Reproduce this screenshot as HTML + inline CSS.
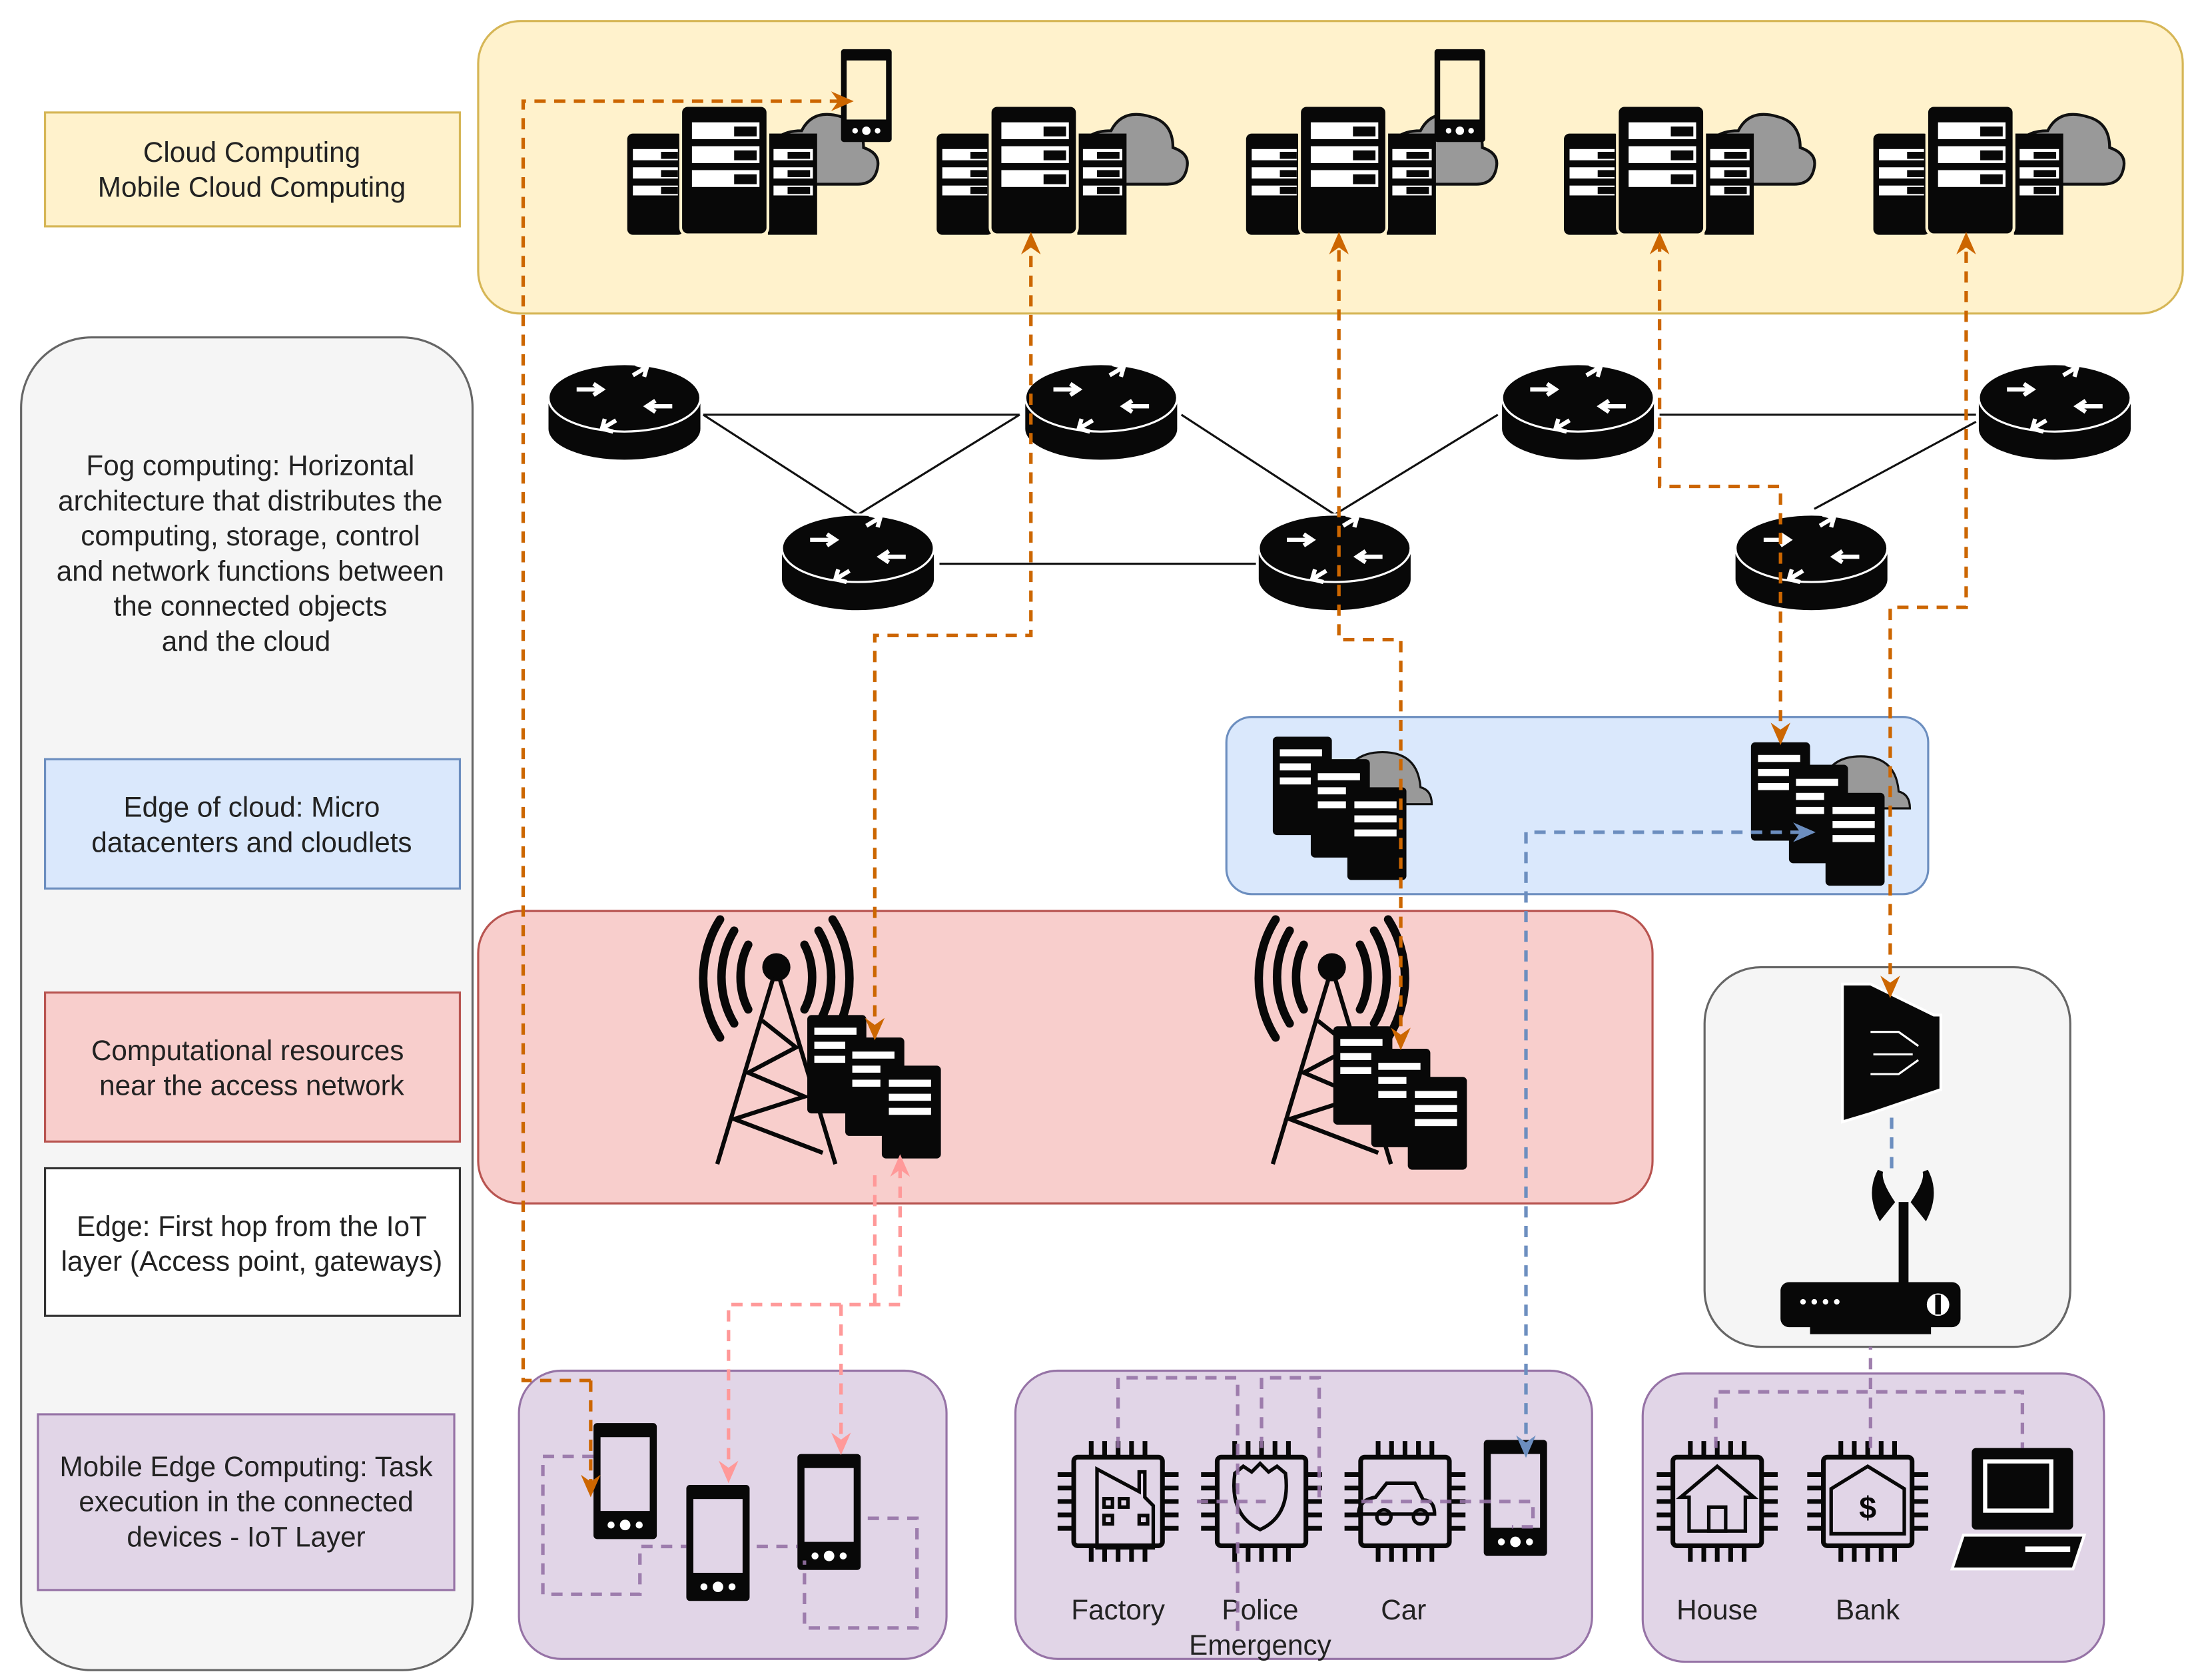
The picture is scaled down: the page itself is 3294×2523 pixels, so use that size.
<!DOCTYPE html>
<html><head><meta charset="utf-8"><style>
html,body{margin:0;padding:0;background:#fff;}
svg{display:block;}
text{font-family:"Liberation Sans",sans-serif;font-size:20px;fill:#222;}
</style></head><body>
<svg width="3294" height="2523" viewBox="0 0 1560 1195" preserveAspectRatio="none" xmlns="http://www.w3.org/2000/svg">
<defs>
<symbol id="cluster" viewBox="0 0 200 110" overflow="visible">
  <path d="M100,38 q2,-20 24,-20 q8,-16 28,-10 q16,4 16,22 q12,4 10,14 q-2,12 -14,12 h-64z" fill="#999" stroke="#111" stroke-width="2"/>
  <rect x="0" y="20" width="40" height="72" rx="4" fill="#080808"/>
  <rect x="100" y="20" width="35" height="72" fill="#080808"/>
  <rect x="38" y="0" width="62" height="92" rx="5" fill="#080808" stroke="#fff2cc" stroke-width="2"/>
  <g fill="#fff">
   <rect x="4" y="31" width="32" height="8"/><rect x="4" y="44" width="32" height="8"/><rect x="4" y="57" width="32" height="7"/>
   <rect x="104" y="31" width="28" height="8"/><rect x="104" y="44" width="28" height="8"/><rect x="104" y="57" width="28" height="7"/>
   <rect x="46" y="12" width="48" height="12"/><rect x="46" y="29" width="48" height="12"/><rect x="46" y="46" width="48" height="12"/>
  </g>
  <g fill="#080808"><rect x="24" y="33" width="12" height="5"/><rect x="24" y="46" width="12" height="5"/><rect x="24" y="58" width="12" height="5"/>
  <rect x="76" y="15" width="16" height="7"/><rect x="76" y="32" width="16" height="7"/><rect x="76" y="49" width="16" height="7"/>
  <rect x="114" y="33" width="16" height="5"/><rect x="114" y="46" width="16" height="5"/><rect x="114" y="58" width="16" height="5"/></g>
</symbol>
<symbol id="phone" viewBox="0 0 40 70" overflow="visible">
  <rect x="0" y="0" width="36" height="66" rx="2" fill="#080808"/>
  <rect x="4" y="8" width="28" height="42" fill="currentColor"/>
  <circle cx="10" cy="58" r="2" fill="#fff"/><circle cx="18" cy="58" r="3" fill="#fff"/><circle cx="26" cy="58" r="2" fill="#fff"/>
</symbol>
<symbol id="router" viewBox="-55 -36 110 72" overflow="visible">
  <path d="M-54,-10 v22 a54,22 0 0 0 108,0 v-22z" fill="#080808"/>
  <ellipse cx="0" cy="-10" rx="54" ry="24" fill="#080808" stroke="#fff" stroke-width="1.5"/>
  <g stroke="#fff" stroke-width="3" fill="none">
   <path d="M-34,-16 h18 M-22,-20 l6,4 l-6,4"/><path d="M34,-4 h-18 M22,0 l-6,-4 l6,-4"/>
   <path d="M6,-26 l10,-6 M8,-34 l8,2 l-2,7"/><path d="M-6,6 l-10,6 M-8,14 l-8,-2 l2,-7"/>
  </g>
</symbol>
<symbol id="docs" viewBox="0 0 90 100" overflow="visible">
  <g><rect x="0" y="0" width="42" height="70" rx="3" fill="#080808"/><rect x="5" y="9" width="30" height="5" fill="#fff"/><rect x="5" y="19" width="24" height="5" fill="#fff"/><rect x="5" y="29" width="24" height="5" fill="#fff"/></g>
  <g><rect x="27" y="16" width="42" height="70" rx="3" fill="#080808"/><rect x="32" y="26" width="30" height="5" fill="#fff"/><rect x="32" y="36" width="20" height="5" fill="#fff"/><rect x="32" y="46" width="20" height="5" fill="#fff"/></g>
  <g><rect x="53" y="36" width="42" height="66" rx="3" fill="#080808"/><rect x="58" y="46" width="30" height="5" fill="#fff"/><rect x="58" y="56" width="30" height="5" fill="#fff"/><rect x="58" y="66" width="30" height="5" fill="#fff"/></g>
</symbol>
<symbol id="tower" viewBox="0 0 110 180" overflow="visible">
  <g fill="none" stroke="#080808" stroke-width="6" stroke-linecap="round">
   <path d="M32,22 a30,40 0 0 0 0,46"/><path d="M22,12 a45,55 0 0 0 0,66"/><path d="M12,4 a60,70 0 0 0 0,84"/>
   <path d="M72,22 a30,40 0 0 1 0,46"/><path d="M82,12 a45,55 0 0 1 0,66"/><path d="M92,4 a60,70 0 0 1 0,84"/>
  </g>
  <circle cx="52" cy="38" r="10" fill="#080808"/>
  <g fill="none" stroke="#080808" stroke-width="3">
   <path d="M50,45 L10,178 M54,45 L94,178"/>
   <path d="M42,76 L66,95 L32,113 L72,130 L22,146 L85,170"/>
  </g>
</symbol>
<symbol id="chip" viewBox="0 0 90 90" overflow="visible">
  <g stroke="#080808" stroke-width="3.5">
   <path d="M25,0 v12 M35,0 v12 M45,0 v12 M55,0 v12 M65,0 v12 M25,78 v12 M35,78 v12 M45,78 v12 M55,78 v12 M65,78 v12"/>
   <path d="M0,25 h12 M0,35 h12 M0,45 h12 M0,55 h12 M0,65 h12 M78,25 h12 M78,35 h12 M78,45 h12 M78,55 h12 M78,65 h12"/>
  </g>
  <rect x="12" y="12" width="66" height="66" rx="3" fill="none" stroke="#080808" stroke-width="3.5"/>
</symbol>
<marker id="ao" markerWidth="16" markerHeight="16" refX="13" refY="8" orient="auto-start-reverse" markerUnits="userSpaceOnUse"><path d="M0,1 L16,8 L0,15 L5,8z" fill="#cc6600"/></marker>
<marker id="ap" markerWidth="16" markerHeight="16" refX="13" refY="8" orient="auto-start-reverse" markerUnits="userSpaceOnUse"><path d="M0,1 L16,8 L0,15 L5,8z" fill="#ff9999"/></marker>
<marker id="ab" markerWidth="16" markerHeight="16" refX="13" refY="8" orient="auto-start-reverse" markerUnits="userSpaceOnUse"><path d="M0,1 L16,8 L0,15 L5,8z" fill="#6c8ebf"/></marker>
</defs>

<rect x="340" y="15" width="1212" height="208" rx="30" fill="#fff2cc" stroke="#d6b656" stroke-width="1.5"/>
<rect x="15" y="240" width="321" height="948" rx="50" fill="#f5f5f5" stroke="#666" stroke-width="1.5"/>
<rect x="872" y="510" width="499" height="126" rx="18" fill="#dae8fc" stroke="#6c8ebf" stroke-width="1.5"/>
<rect x="340" y="648" width="835" height="208" rx="30" fill="#f8cecc" stroke="#b85450" stroke-width="1.5"/>
<rect x="1212" y="688" width="260" height="270" rx="40" fill="#f5f5f5" stroke="#666" stroke-width="1.5"/>
<rect x="369" y="975" width="304" height="205" rx="30" fill="#e1d5e7" stroke="#9673a6" stroke-width="1.5"/>
<rect x="722" y="975" width="410" height="205" rx="30" fill="#e1d5e7" stroke="#9673a6" stroke-width="1.5"/>
<rect x="1168" y="977" width="328" height="205" rx="30" fill="#e1d5e7" stroke="#9673a6" stroke-width="1.5"/>

<rect x="32" y="80" width="295" height="81" fill="#fff2cc" stroke="#d6b656" stroke-width="1.5"/>
<text x="179" y="115" text-anchor="middle">Cloud Computing</text>
<text x="179" y="140" text-anchor="middle">Mobile Cloud Computing</text>
<g text-anchor="middle">
<text x="178" y="338">Fog computing: Horizontal</text>
<text x="178" y="363">architecture that distributes the</text>
<text x="178" y="388">computing, storage, control</text>
<text x="178" y="413">and network functions between</text>
<text x="178" y="438">the connected objects</text>
<text x="175" y="463">and the cloud</text>
</g>
<rect x="32" y="540" width="295" height="92" fill="#dae8fc" stroke="#6c8ebf" stroke-width="1.5"/>
<text x="179" y="581" text-anchor="middle">Edge of cloud: Micro</text>
<text x="179" y="606" text-anchor="middle">datacenters and cloudlets</text>
<rect x="32" y="706" width="295" height="106" fill="#f8cecc" stroke="#b85450" stroke-width="1.5"/>
<text x="176" y="754" text-anchor="middle">Computational resources</text>
<text x="179" y="779" text-anchor="middle">near the access network</text>
<rect x="32" y="831" width="295" height="105" fill="#fff" stroke="#333" stroke-width="1.5"/>
<text x="179" y="879" text-anchor="middle">Edge: First hop from the IoT</text>
<text x="179" y="904" text-anchor="middle">layer (Access point, gateways)</text>
<rect x="27" y="1006" width="296" height="125" fill="#e1d5e7" stroke="#9673a6" stroke-width="1.5"/>
<text x="175" y="1050" text-anchor="middle">Mobile Edge Computing: Task</text>
<text x="175" y="1075" text-anchor="middle">execution in the connected</text>
<text x="175" y="1100" text-anchor="middle">devices - IoT Layer</text>

<g stroke="#111" stroke-width="1.5" fill="none">
<path d="M500,295 H725 M500,295 L610,366 L725,295 M840,295 L949,366 L1065,295 M1180,295 H1405 M1290,362 L1405,300 M668,401 H893"/>
</g>

<use href="#cluster" x="446" y="75" width="200" height="110"/>
<use href="#cluster" x="666" y="75" width="200" height="110"/>
<use href="#cluster" x="886" y="75" width="200" height="110"/>
<use href="#cluster" x="1112" y="75" width="200" height="110"/>
<use href="#cluster" x="1332" y="75" width="200" height="110"/>
<use href="#phone" x="598" y="35" width="40" height="70" style="color:#fff2cc"/>
<use href="#phone" x="1020" y="35" width="40" height="70" style="color:#fff2cc"/>

<use href="#router" x="389" y="257" width="110" height="72"/>
<use href="#router" x="728" y="257" width="110" height="72"/>
<use href="#router" x="1067" y="257" width="110" height="72"/>
<use href="#router" x="1406" y="257" width="110" height="72"/>
<use href="#router" x="555" y="364" width="110" height="72"/>
<use href="#router" x="894" y="364" width="110" height="72"/>
<use href="#router" x="1233" y="364" width="110" height="72"/>

<path d="M955,565 q0,-30 28,-30 q25,0 27,25 q8,2 8,12 h-63z" fill="#999" stroke="#111" stroke-width="1.5"/>
<use href="#docs" x="905" y="524" width="90" height="100"/>
<path d="M1295,568 q0,-30 28,-30 q25,0 27,25 q8,2 8,12 h-63z" fill="#999" stroke="#111" stroke-width="1.5"/>
<use href="#docs" x="1245" y="528" width="90" height="100"/>

<use href="#tower" x="500" y="650" width="110" height="180"/>
<use href="#docs" x="574" y="722" width="90" height="100"/>
<use href="#tower" x="895" y="650" width="110" height="180"/>
<use href="#docs" x="948" y="730" width="90" height="100"/>

<path d="M1310,700 L1330,700 L1375,722 L1380,722 L1380,775 L1330,792 L1310,798z" fill="#080808" stroke="#fff" stroke-width="2"/>
<g stroke="#fff" stroke-width="1.5" fill="none"><path d="M1330,734 h20 l14,10 M1332,750 h28 M1330,764 h20 l14,-10"/></g>
<rect x="1350" y="855" width="7" height="60" fill="#080808"/>
<path d="M1345,855 q-10,-15 -8,-22 q-8,15 0,32z M1361,855 q10,-15 8,-22 q8,15 0,32z" fill="#080808" stroke="#080808" stroke-width="4"/>
<rect x="1266" y="912" width="128" height="32" rx="6" fill="#080808"/>
<rect x="1287" y="940" width="86" height="9" fill="#080808"/>
<g fill="#fff"><circle cx="1282" cy="926" r="2"/><circle cx="1290" cy="926" r="2"/><circle cx="1298" cy="926" r="2"/><circle cx="1306" cy="926" r="2"/><circle cx="1378" cy="928" r="8"/></g>
<rect x="1376" y="921" width="4" height="14" fill="#080808"/>

<use href="#phone" x="422" y="1012" width="50" height="88" style="color:#e1d5e7"/>
<use href="#phone" x="488" y="1056" width="50" height="88" style="color:#e1d5e7"/>
<use href="#phone" x="567" y="1034" width="50" height="88" style="color:#e1d5e7"/>
<use href="#phone" x="1055" y="1024" width="50" height="88" style="color:#e1d5e7"/>
<use href="#chip" x="752" y="1025" width="86" height="86"/>
<use href="#chip" x="854" y="1025" width="86" height="86"/>
<use href="#chip" x="956" y="1025" width="86" height="86"/>
<use href="#chip" x="1178" y="1025" width="86" height="86"/>
<use href="#chip" x="1285" y="1025" width="86" height="86"/>
<g fill="none" stroke="#080808" stroke-width="2.5">
 <path d="M780,1045 l30,16 v-14 h4 v18 l6,6 v30 h-40z"/><rect x="785" y="1066" width="6" height="6"/><rect x="796" y="1066" width="6" height="6"/><rect x="785" y="1078" width="6" height="6"/><rect x="810" y="1078" width="6" height="6"/>
 <path d="M878,1048 l6,-5 l6,4 l6,-6 l6,6 l6,-4 l6,5 q4,30 -18,40 q-22,-10 -18,-40z"/>
 <path d="M966,1077 q0,-10 12,-12 l8,-10 h20 l6,12 q8,0 8,10 z"/><circle cx="984" cy="1079" r="5"/><circle cx="1010" cy="1079" r="5"/>
 <path d="M1221,1043 l-26,22 h6 v24 h40 v-24 h6z"/><rect x="1215" y="1072" width="12" height="17"/>
 <path d="M1328,1043 l-26,16 v32 h52 v-32z"/>
</g>
<text x="1328" y="1080" text-anchor="middle" style="font-size:22px;font-weight:bold;fill:#080808">$</text>
<rect x="1402" y="1030" width="72" height="58" rx="3" fill="#080808"/>
<rect x="1410" y="1038" width="50" height="38" fill="#fff"/><rect x="1413" y="1041" width="44" height="32" fill="#080808"/>
<path d="M1396,1092 h86 l-8,24 h-86z" fill="#080808" stroke="#fff" stroke-width="2"/>
<rect x="1440" y="1100" width="32" height="4" fill="#fff"/>

<g text-anchor="middle">
<text x="795" y="1152">Factory</text>
<text x="896" y="1152">Police</text>
<text x="896" y="1177">Emergency</text>
<text x="998" y="1152">Car</text>
<text x="1221" y="1152">House</text>
<text x="1328" y="1152">Bank</text>
</g>

<g fill="none" stroke="#9673a6" stroke-width="2.5" stroke-dasharray="8,6" opacity="0.9">
<path d="M422,1036 H386 V1134 H455 V1100 H488"/>
<path d="M538,1100 H567"/>
<path d="M617,1080 H652 V1158 H572 V1110"/>
<path d="M795,1030 V980 H880 V1160"/>
<path d="M897,1030 V980 H938 V1070"/>
<path d="M851,1068 H900 M968,1068 H1090 V1086 H1075"/>
<path d="M1220,1030 V990 H1438 V1030"/>
<path d="M1330,1030 V958"/>
</g>

<g fill="none" stroke="#cc6600" stroke-width="2.5" stroke-dasharray="8,6">
<path d="M420,982 H372 V72 H604" marker-end="url(#ao)"/>
<path d="M420,982 V1062" marker-end="url(#ao)"/>
<path d="M622,737 V452 H733 V168" marker-start="url(#ao)" marker-end="url(#ao)"/>
<path d="M996,744 V455 H952 V168" marker-start="url(#ao)" marker-end="url(#ao)"/>
<path d="M1266,527 V346 H1180 V168" marker-start="url(#ao)" marker-end="url(#ao)"/>
<path d="M1344,707 V432 H1398 V168" marker-start="url(#ao)" marker-end="url(#ao)"/>
</g>

<g fill="none" stroke="#ff9999" stroke-width="2.5" stroke-dasharray="8,6">
<path d="M518,1052 V928 H640 V824" marker-start="url(#ap)" marker-end="url(#ap)"/>
<path d="M598,928 V1032" marker-end="url(#ap)"/>
<path d="M622,928 V830"/>
</g>

<g fill="none" stroke="#6c8ebf" stroke-width="2.5" stroke-dasharray="8,6">
<path d="M1085,1034 V592 H1288" marker-start="url(#ab)" marker-end="url(#ab)"/>
<path d="M1345,795 V835"/>
</g>
</svg>
</body></html>
